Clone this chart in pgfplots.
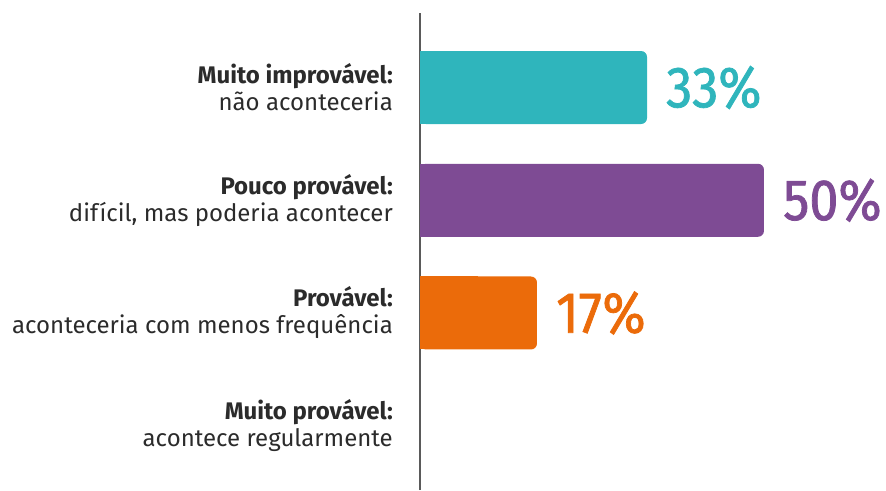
\documentclass[border=0pt]{standalone}
\usepackage{pgfplots}
\pgfplotsset{compat=1.18}
\usepackage{fontspec}
\setmainfont{Fira Sans}
\newfontfamily\numfont[FakeStretch=0.9, FakeBold=1.3]{Fira Sans}
\definecolor{cTeal}{HTML}{2FB5BC}
\definecolor{cPurple}{HTML}{7E4B94}
\definecolor{cOrange}{HTML}{EB6B0A}
\definecolor{textgray}{HTML}{2B2B2B}
\definecolor{axisgray}{HTML}{5A5A5A}
\begin{document}
\begin{tikzpicture}
\useasboundingbox (0,0) rectangle (886pt,490pt);
\begin{axis}[
  at={(420pt,0pt)}, anchor=south west, scale only axis,
  width=412.8pt, height=477pt,
  xmin=0, xmax=60, ymin=-0.570, ymax=3.661,
  xbar, bar width=73pt, bar shift=0pt,
  axis x line=none, axis y line*=left,
  y axis line style={draw=axisgray, line width=1.3pt},
  ytick={0,1,2,3},
  yticklabels={{\bfseries Muito provável:\\acontece regularmente},
               {\bfseries Provável:\\aconteceria com menos frequência},
               {\bfseries Pouco provável:\\difícil, mas poderia acontecer},
               {\bfseries Muito improvável:\\não aconteceria}},
  major tick length=0pt,
  yticklabel style={align=right, font=\fontsize{24}{27}\selectfont, text=textgray, inner sep=0pt, xshift=-27pt},
  point meta=x,
  /pgf/number format/assume math mode=true,
  clip=false,
]
% square-cornered left parts (cover left rounding)
\addplot[fill=cTeal, draw=none, forget plot, x filter/.expression={x/2}] coordinates {(33,3)};
\addplot[fill=cPurple, draw=none, forget plot, x filter/.expression={x/2}] coordinates {(50,2)};
\addplot[fill=cOrange, draw=none, forget plot, x filter/.expression={x/2}] coordinates {(17,1)};
% main bars
\addplot[fill=cTeal, draw=none, rounded corners=6pt,
  nodes near coords={\pgfmathprintnumber{\pgfplotspointmeta}\%},
  every node near coord/.append style={text=cTeal, font=\numfont\fontsize{58}{58}\selectfont, inner sep=0pt, xshift=19pt}]
  coordinates {(33,3)};
\addplot[fill=cPurple, draw=none, rounded corners=6pt,
  nodes near coords={\pgfmathprintnumber{\pgfplotspointmeta}\%},
  every node near coord/.append style={text=cPurple, font=\numfont\fontsize{58}{58}\selectfont, inner sep=0pt, xshift=19pt}]
  coordinates {(50,2)};
\addplot[fill=cOrange, draw=none, rounded corners=6pt,
  nodes near coords={\pgfmathprintnumber{\pgfplotspointmeta}\%},
  every node near coord/.append style={text=cOrange, font=\numfont\fontsize{58}{58}\selectfont, inner sep=0pt, xshift=19pt}]
  coordinates {(17,1)};
\end{axis}
\end{tikzpicture}
\end{document}
